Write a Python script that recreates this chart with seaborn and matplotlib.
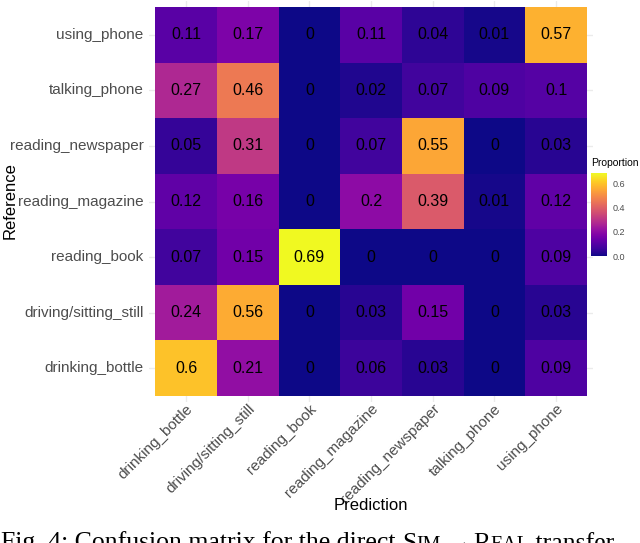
import numpy as np
import pandas as pd
import matplotlib
matplotlib.use("Agg")
import matplotlib.pyplot as plt
import seaborn as sns

# --- data ---
predicted = ['drinking_bottle', 'driving/sitting_still', 'reading_book', 'reading_magazine',
             'reading_newspaper', 'talking_phone', 'using_phone']
reference = ['using_phone', 'talking_phone', 'reading_newspaper', 'reading_magazine',
             'reading_book', 'driving/sitting_still', 'drinking_bottle']

using_phone = [0.11, 0.17, 0, 0.11, 0.04, 0.01, 0.57]
talking_phone = [0.27, 0.46, 0, 0.02, 0.07, 0.09, 0.1]
reading_newspaper = [0.05, 0.31, 0, 0.07, 0.55, 0, 0.03]
reading_magazine = [0.12, 0.16, 0, 0.2, 0.39, 0.01, 0.12]
reading_book = [0.07, 0.15, 0.69, 0, 0, 0, 0.09]
driving_sitting_still = [0.24, 0.56, 0, 0.03, 0.15, 0, 0.03]
drinking_bottle = [0.6, 0.21, 0, 0.06, 0.03, 0, 0.09]

cm = pd.DataFrame([using_phone, talking_phone, reading_newspaper, reading_magazine,
                   reading_book, driving_sitting_still, drinking_bottle],
                  index=reference, columns=predicted)
labels = cm.map(lambda v: f"{v:g}")

W, H = 640, 543
sns.set_theme(style="white")
plt.rcParams['font.family'] = ['Liberation Sans', 'DejaVu Sans']

fig = plt.figure(figsize=(W / 100, H / 100), dpi=100)
ax = fig.add_axes([149 / W, 1 - 401.6 / H, 444 / W, 400.2 / H])
cax = fig.add_axes([591 / W, 1 - 256 / H, 16 / W, 83 / H])

sns.heatmap(cm, ax=ax, cbar_ax=cax, cmap='plasma', vmin=0, vmax=0.69,
            annot=labels, fmt='', annot_kws={'size': 11.5, 'color': 'black'},
            linewidths=0)

# ggplot-like panel: small expansion around the tiles, faint grid behind
ax.set_xlim(-0.1, 7.1)
ax.set_ylim(7.1, -0.1)
ax.set_axisbelow(True)
ax.grid(True, color='#EBEBEB', linewidth=1)
for s in ax.spines.values():
    s.set_visible(False)
ax.tick_params(length=0, labelsize=11, labelcolor='#4D4D4D')
ax.tick_params(axis='y', pad=4)
ax.tick_params(axis='x', pad=0)
ax.set_xticks(np.arange(7) + 0.5)
ax.set_yticks(np.arange(7) + 0.5)
ax.set_xticklabels(predicted, rotation=45, ha='right', rotation_mode='anchor')
ax.set_yticklabels(reference, rotation=0)
ax.set_xlabel('')
ax.set_ylabel('')

fig.text(371 / W, 1 - 506 / H, 'Prediction', ha='center', va='center', fontsize=12, color='black')
fig.text(10 / W, 1 - 201 / H, 'Reference', ha='center', va='center', rotation=90,
         fontsize=12, color='black')

# colorbar
cax.set_yticks([0, 0.2, 0.4, 0.6])
cax.set_yticklabels(['0.0', '0.2', '0.4', '0.6'])
cax.tick_params(axis='y', length=3, width=0.8, color='white', direction='in',
                labelsize=6.5, labelcolor='#4D4D4D', pad=4, right=True, left=True)
for s in cax.spines.values():
    s.set_visible(False)
fig.text(591 / W, 1 - 163 / H, 'Proportion', ha='left', va='center', fontsize=7.5, color='black')

# cut-off figure caption below the chart
cap_size = 18.5
serif = ['Liberation Serif', 'DejaVu Serif']
pieces = [("Fig. 4: Confusion matrix for the direct ", 1.0), ("S", 1.0), ("IM", 0.78),
          (" \u2192", 1.0), ("R", 1.0), ("EAL", 0.78), (" transfer.", 1.0)]
prev = fig.text(1 / W, -11.5 / H, pieces[0][0], ha='left', va='bottom',
                fontsize=cap_size, family=serif, color='black')
for txt, scale in pieces[1:]:
    prev = ax.annotate(txt, xy=(1, 0), xycoords=prev, ha='left', va='bottom',
                       fontsize=cap_size * scale, family=serif, color='black',
                       annotation_clip=False)

fig.savefig('out.png', dpi=100)
